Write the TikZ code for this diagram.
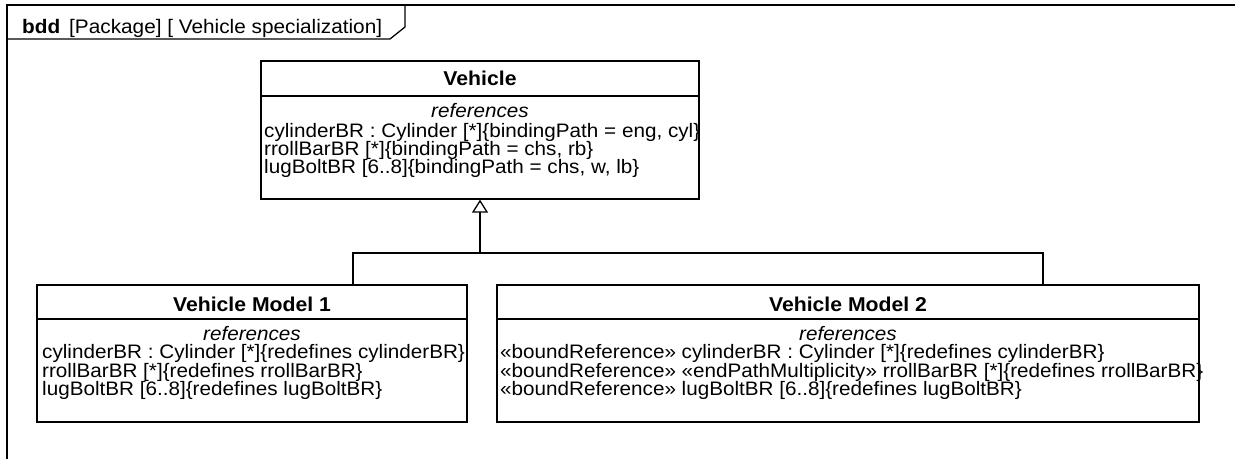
\documentclass[tikz,border=0pt]{standalone}
\usepackage{fontspec}
\setmainfont{Liberation Sans}[FakeStretch=1.06]
\usetikzlibrary{arrows.meta}
\begin{document}
\begin{tikzpicture}[x=1pt,y=-1pt,
  box/.style={draw, line width=1.3pt, inner sep=0pt, fill=white},
  ttl/.style={font=\fontsize{20}{18}\selectfont\bfseries, inner sep=0pt, anchor=base},
  txt/.style={font=\fontsize{19.5}{18}\selectfont, inner sep=0pt, anchor=base west},
  kw/.style={font=\fontsize{19.5}{18}\selectfont\itshape, inner sep=0pt, anchor=base},
  hdr/.style={font=\fontsize{19.6}{18}\selectfont, inner sep=0pt, anchor=base west},
  ln/.style={line width=1.3pt},
  gen/.style={line width=1.3pt, -{Triangle[open, length=13pt, width=16pt, line width=1.3pt]}},
]
\useasboundingbox (0,0) rectangle (1235,459);
% frame
\draw[ln] (7,459) -- (7,5) -- (1235,5);
\draw[ln] (7,39) -- (390,39) -- (405,27) -- (405,5);
\node[hdr] (hdrA) at (22,33) {\bfseries bdd};
\node[hdr] (hdrB) at (69,33) {[Package] [ Vehicle specialization]};

% Vehicle
\node[box, minimum width=438pt, minimum height=138pt] (veh) at (480,130) {};
\draw[ln] (261,96) -- (699,96);
\node[ttl] (vehT) at (480,85.5) {Vehicle};
\node[kw] (vehK) at (480,117) {references};
\node[txt] (vehA) at (264,137) {cylinderBR : Cylinder [*]\{bindingPath = eng, cyl\}};
\node[txt] (vehB) at (264,155.3) {rrollBarBR [*]\{bindingPath = chs, rb\}};
\node[txt] (vehC) at (264,173.6) {lugBoltBR [6..8]\{bindingPath = chs, w, lb\}};

% Vehicle Model 1
\node[box, minimum width=430pt, minimum height=137pt] (vm1) at (252,353.5) {};
\draw[ln] (37,319) -- (467,319);
\node[ttl] (vm1T) at (252,311) {Vehicle Model 1};
\node[kw] (vm1K) at (252,340.5) {references};
\node[txt] (vm1A) at (42,358.8) {cylinderBR : Cylinder [*]\{redefines cylinderBR\}};
\node[txt] (vm1B) at (42,377.1) {rrollBarBR [*]\{redefines rrollBarBR\}};
\node[txt] (vm1C) at (42,395.4) {lugBoltBR [6..8]\{redefines lugBoltBR\}};

% Vehicle Model 2
\node[box, minimum width=702pt, minimum height=137pt] (vm2) at (848,353.5) {};
\draw[ln] (497,319) -- (1199,319);
\node[ttl] (vm2T) at (848,311) {Vehicle Model 2};
\node[kw] (vm2K) at (848,340.5) {references};
\node[txt] (vm2A) at (500,358.8) {«boundReference» cylinderBR : Cylinder [*]\{redefines cylinderBR\}};
\node[txt] (vm2B) at (500,377.1) {«boundReference» «endPathMultiplicity» rrollBarBR [*]\{redefines rrollBarBR\}};
\node[txt] (vm2C) at (500,395.4) {«boundReference» lugBoltBR [6..8]\{redefines lugBoltBR\}};

% generalization
\coordinate (jn) at (480,253);
\coordinate (b1) at (353,285);
\coordinate (b2) at (1043,285);
\draw[ln] (b1) |- (jn);
\draw[ln] (b2) |- (jn);
\draw[gen] (jn) -- (veh.south);
\end{tikzpicture}
\end{document}
